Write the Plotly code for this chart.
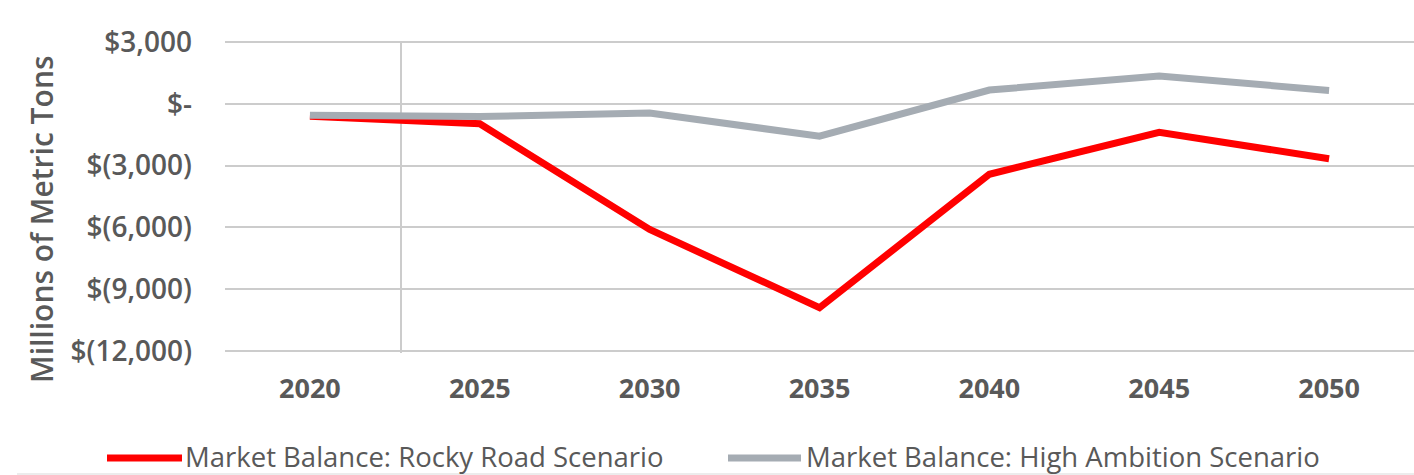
import plotly.graph_objects as go

# Market balance by scenario (millions of metric tons)
years = ["2020", "2025", "2030", "2035", "2040", "2045", "2050"]
rocky_road = [-600, -970, -6100, -9900, -3420, -1380, -2670]
high_ambition = [-550, -620, -450, -1570, 670, 1350, 650]

tick_vals = [3000, 0, -3000, -6000, -9000, -12000]
tick_text = ["$3,000", "$-", "$(3,000)", "$(6,000)", "$(9,000)", "$(12,000)"]

series_names = ["Market Balance: Rocky Road Scenario",
                "Market Balance: High Ambition Scenario"]
series_colors = ["#FF0000", "#A5ACB3"]

W, H = 1414, 475
L, R, T, B = 225, 0, 40, 122
PW, PH = W - L - R, H - T - B
TXT = "#595959"
FONT = "Open Sans"


def px_x(px):
    return (px - L) / PW


def px_y(py):
    return (H - B - py) / PH


fig = go.Figure()
for name, vals, col in zip(series_names, [rocky_road, high_ambition], series_colors):
    fig.add_trace(go.Scatter(
        x=years, y=vals, mode="lines", name=name,
        line=dict(color=col, width=7), showlegend=False,
    ))

shapes = [
    # vertical axis line crossing the category axis
    dict(type="line", xref="paper", yref="paper",
         x0=px_x(401), x1=px_x(401), y0=px_y(42), y1=px_y(353),
         line=dict(color="#cccccc", width=2), layer="below"),
    # outer frame bottom edge
    dict(type="line", xref="paper", yref="paper",
         x0=px_x(17), x1=px_x(W), y0=px_y(474), y1=px_y(474),
         line=dict(color="#d9d9d9", width=1)),
]

annotations = [
    dict(text="Millions of Metric Tons", textangle=-90, showarrow=False,
         xref="paper", yref="paper", x=px_x(41), y=px_y(219),
         xanchor="center", yanchor="middle",
         font=dict(family=FONT, size=30, color=TXT, weight=600)),
]

# legend: line samples and labels along the bottom
legend_items = [(107, 182, 183), (728, 801, 804)]
for (x0, x1, xt), name, col in zip(legend_items, series_names, series_colors):
    shapes.append(dict(type="line", xref="paper", yref="paper",
                       x0=px_x(x0), x1=px_x(x1), y0=px_y(458), y1=px_y(458),
                       line=dict(color=col, width=7)))
    annotations.append(dict(text=name, showarrow=False, xref="paper", yref="paper",
                            x=px_x(xt), y=px_y(456), xanchor="left", yanchor="middle",
                            font=dict(family=FONT, size=27.5, color=TXT, weight=500)))

fig.update_layout(
    width=W, height=H,
    margin=dict(l=L, r=R, t=T, b=B),
    paper_bgcolor="white", plot_bgcolor="white",
    font=dict(family=FONT, color=TXT),
    shapes=shapes, annotations=annotations,
    xaxis=dict(
        type="category", range=[-0.5, 6.5], showgrid=False, showline=False,
        zeroline=False, ticks="", ticklabelstandoff=17,
        tickfont=dict(family=FONT, size=27, color=TXT, weight=700),
    ),
    yaxis=dict(
        range=[-12100, 3100], tickvals=tick_vals, ticktext=tick_text,
        showgrid=True, gridcolor="#cccccc", gridwidth=2, zeroline=False,
        showline=False, ticks="", ticklabelstandoff=32,
        tickfont=dict(family=FONT, size=28, color=TXT, weight=600),
    ),
)

fig.write_html("out.html")
